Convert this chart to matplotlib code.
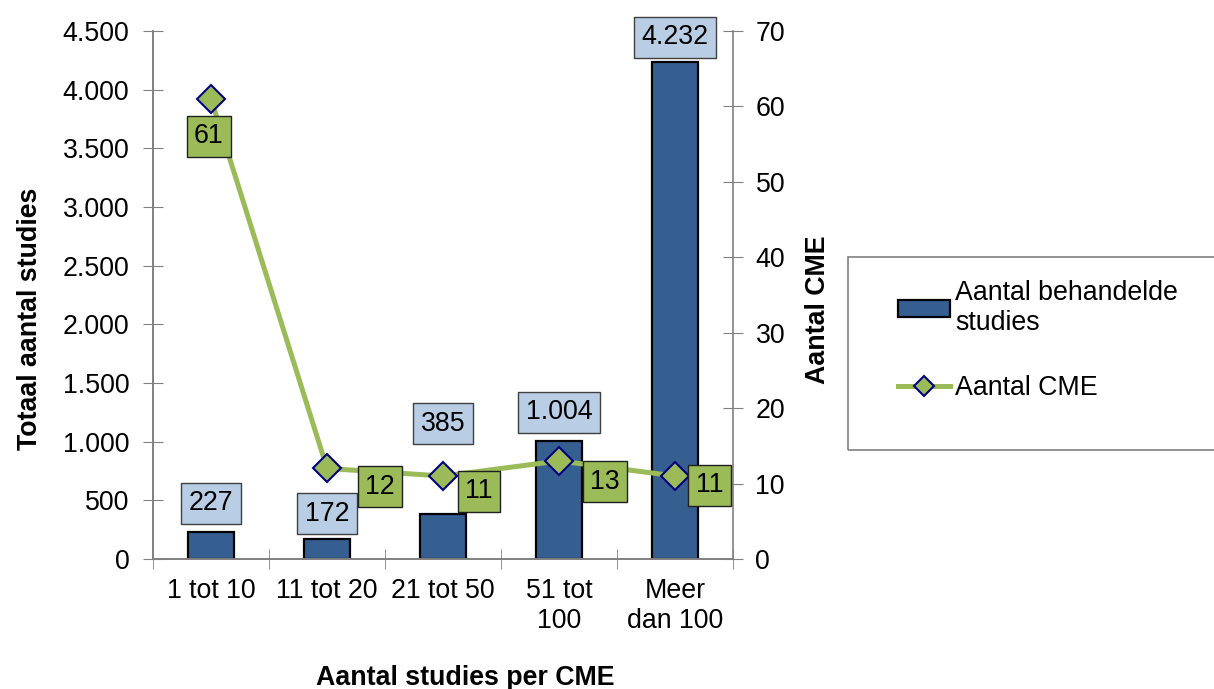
import matplotlib.pyplot as plt
import numpy as np
from matplotlib.patches import Rectangle, Patch
from matplotlib.lines import Line2D
from matplotlib.ticker import FuncFormatter, MultipleLocator

plt.rcParams['font.family'] = ['Liberation Sans', 'DejaVu Sans']

# gegevens per categorie
categorieen = ['1 tot 10', '11 tot 20', '21 tot 50', '51 tot\n100', 'Meer\ndan 100']
studies = [227, 172, 385, 1004, 4232]
cme = [61, 12, 11, 13, 11]

# label-verschuivingen in punten (x, y)
studies_offset = [21, 18, 65, 21, 18]
cme_offset = [(-1.5, -27), (38, -13), (26, -11), (33, -15), (24.5, -6.5)]

blauw = '#365F91'
lichtblauw = '#B9CDE5'
groen = '#9BBB59'
grijs = '#808080'
fs = 19.3


def punt(v, pos=None):
    return f'{int(v):,}'.replace(',', '.')


fig = plt.figure(figsize=(12.14, 6.89), dpi=100)
ax = fig.add_axes([0.126, 0.1887, 0.478, 0.7663])
ax2 = ax.twinx()

x = np.arange(len(categorieen))
ax.bar(x, studies, width=0.4, color=blauw, edgecolor='black', linewidth=1.6, zorder=2)
ax.set_xlim(-0.5, len(categorieen) - 0.5)
ax.set_ylim(0, 4500)
ax.yaxis.set_major_locator(MultipleLocator(500))
ax.yaxis.set_major_formatter(FuncFormatter(punt))

ax2.plot(x, cme, color=groen, linewidth=3.6, marker='D', markersize=14,
         markerfacecolor=groen, markeredgecolor='#000080', markeredgewidth=1.5, zorder=3)
ax2.set_ylim(0, 70)
ax2.yaxis.set_major_locator(MultipleLocator(10))

# waardelabels boven de staven
for xi, v, dy in zip(x, studies, studies_offset):
    ax.annotate(punt(v), (xi, v), xytext=(0, dy), textcoords='offset points',
                ha='center', va='center', fontsize=fs, zorder=5,
                bbox=dict(boxstyle='square,pad=0.28', fc=lichtblauw, ec='#404040', lw=1))

# waardelabels bij de lijn
for xi, v, (dx, dy) in zip(x, cme, cme_offset):
    ax2.annotate(str(v), (xi, v), xytext=(dx, dy), textcoords='offset points',
                 ha='center', va='center', fontsize=fs, zorder=6,
                 bbox=dict(boxstyle='square,pad=0.28', fc=groen, ec='#202020', lw=1))

ax.set_xticks(x)
ax.set_xticklabels(categorieen, fontsize=fs, linespacing=1.2)
ax.set_xticks(np.arange(-0.5, len(categorieen)), minor=True)
ax.tick_params(axis='x', which='major', length=0, pad=14)
ax.tick_params(axis='x', which='minor', direction='inout', length=14, color=grijs)
ax.tick_params(axis='y', direction='inout', length=14, color=grijs, labelsize=fs, pad=10)
ax2.tick_params(axis='y', direction='inout', length=14, color=grijs, labelsize=fs, pad=9)

for a in (ax, ax2):
    a.spines['top'].set_visible(False)
    for s in ('left', 'right', 'bottom'):
        a.spines[s].set_color(grijs)
        a.spines[s].set_linewidth(1.2)
ax.spines['right'].set_visible(False)

fig.text(0.0247, 0.538, 'Totaal aantal studies', rotation=90, ha='center', va='center',
         fontsize=fs, fontweight='bold')
fig.text(0.674, 0.551, 'Aantal CME', rotation=90, ha='center', va='center',
         fontsize=fs, fontweight='bold')
fig.text(0.383, 0.016, 'Aantal studies per CME', ha='center', va='center',
         fontsize=fs, fontweight='bold')

# legenda met kader dat rechts doorloopt
fig.patches.append(Rectangle((0.6985, 0.3469), 0.32, 0.2801, transform=fig.transFigure,
                             fill=False, edgecolor=grijs, linewidth=1.2))
handles = [Patch(facecolor=blauw, edgecolor='black', linewidth=1.6),
           Line2D([], [], color=groen, linewidth=3.6, marker='D', markersize=10,
                  markerfacecolor=groen, markeredgecolor='#000080', markeredgewidth=1.5)]
fig.legend(handles, ['Aantal behandelde\nstudies', 'Aantal CME'], loc='upper left',
           bbox_to_anchor=(0.7395, 0.593), frameon=False, fontsize=fs,
           handlelength=1.95, handleheight=0.6, handletextpad=0.2, labelspacing=1.45,
           borderpad=0, borderaxespad=0)

fig.savefig('out.png', dpi=100)
